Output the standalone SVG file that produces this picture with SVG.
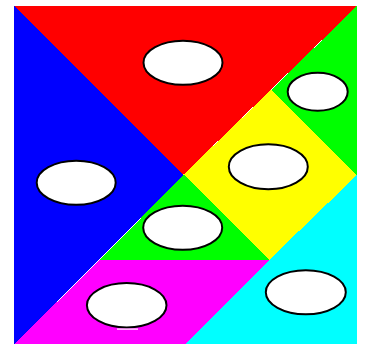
<svg xmlns="http://www.w3.org/2000/svg" width="365" height="344" viewBox="0 0 365 344">
<style>
.p{shape-rendering:crispEdges;stroke:none}
.e{fill:#fff;stroke:#000;stroke-width:2}
</style>
<rect width="365" height="344" fill="#fff"/>
<g id="red"><polygon class="p" fill="#f00" points="14,6 357,6 183.5,174.5"/><ellipse class="e" cx="183" cy="62.8" rx="39.5" ry="22"/></g>
<g id="blue"><polygon class="p" fill="#00f" points="14,6 183.5,174.5 14,344"/><ellipse class="e" cx="76.2" cy="182.8" rx="39.5" ry="22"/></g>
<g id="green-top"><polygon class="p" fill="#0f0" points="357,6 357,175 271,90"/><ellipse class="e" cx="317.7" cy="91.8" rx="30" ry="19"/></g>
<g id="yellow"><polygon class="p" fill="#ff0" points="271,90 357,175 269,260 183.5,174.5"/><ellipse class="e" cx="268.3" cy="166.7" rx="39.5" ry="22.5"/></g>
<g id="green-mid"><polygon class="p" fill="#0f0" points="183.5,174.5 269,260 100,260"/><ellipse class="e" cx="182.7" cy="227.8" rx="39.5" ry="22"/></g>
<g id="cyan"><polygon class="p" fill="#0ff" points="357,175 357,344 186,344 269,260"/><ellipse class="e" cx="305.8" cy="292.2" rx="40" ry="22"/></g>
<g id="magenta"><polygon class="p" fill="#f0f" points="100,260 269,260 186,344 14,344"/><ellipse class="e" cx="126.7" cy="305.3" rx="39.8" ry="22.2"/><rect x="117" y="328.5" width="21" height="1.2" fill="#fff"/></g>
<g id="connectors"/>
</svg>
